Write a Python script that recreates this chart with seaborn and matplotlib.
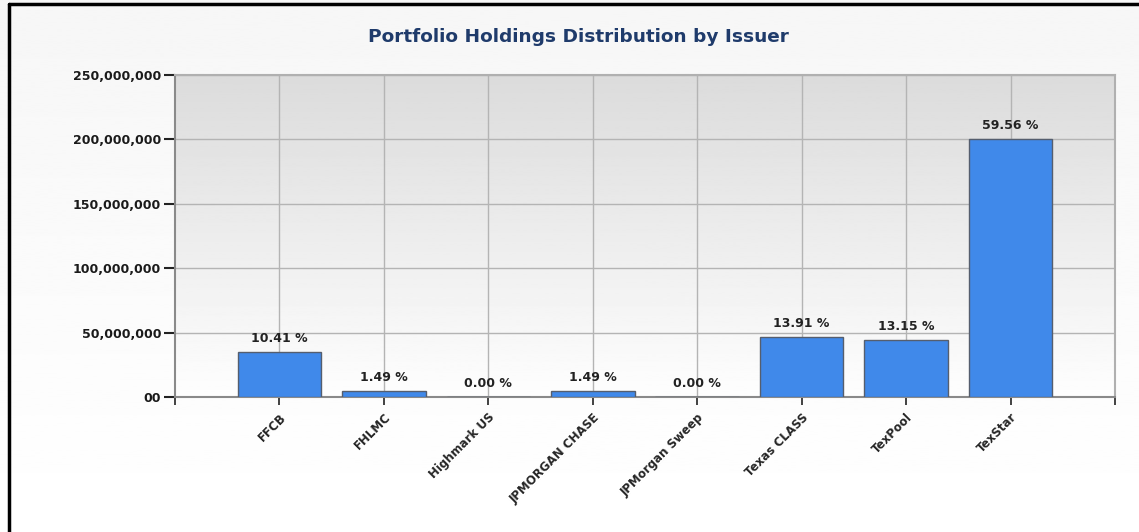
import numpy as np
import pandas as pd
import matplotlib
matplotlib.use("Agg")
import matplotlib.pyplot as plt
import seaborn as sns
from matplotlib.ticker import FuncFormatter

issuers = ["FFCB", "FHLMC", "Highmark US", "JPMORGAN CHASE", "JPMorgan Sweep",
           "Texas CLASS", "TexPool", "TexStar"]
holdings = [35.0e6, 5.0e6, 0.3e6, 5.0e6, 0.3e6, 46.8e6, 44.2e6, 200.2e6]
pct_labels = ["10.41 %", "1.49 %", "0.00 %", "1.49 %", "0.00 %",
              "13.91 %", "13.15 %", "59.56 %"]
y_ticks = [0, 50e6, 100e6, 150e6, 200e6, 250e6]

df = pd.DataFrame({"issuer": issuers, "holdings": holdings})

sns.set_style("white")
plt.rcParams['font.family'] = ['DejaVu Sans']

fig = plt.figure(figsize=(11.39, 5.32), dpi=100)

# figure background gradient + border
bg = fig.add_axes([0, 0, 1, 1], zorder=-10)
grad = np.linspace(0.965, 1.0, 256).reshape(-1, 1)
bg.imshow(grad, cmap="gray", vmin=0, vmax=1, aspect="auto", extent=[0, 1, 0, 1])
bg.plot([0.008, 0.008], [0, 0.992], color="black", lw=2.5)
bg.plot([0.008, 1], [0.992, 0.992], color="black", lw=2.5)
bg.set_xlim(0, 1)
bg.set_ylim(0, 1)
bg.axis("off")

ax = fig.add_axes([175 / 1139, 1 - 397 / 532, 940 / 1139, 322 / 532])

# plot area gradient (grey on top, white at bottom)
pgrad = np.linspace(0.86, 0.995, 256).reshape(-1, 1)
ax.imshow(pgrad, cmap="gray", vmin=0, vmax=1, aspect="auto",
          extent=[0, 1, 0, 1], transform=ax.transAxes, zorder=0)

sns.barplot(data=df, x="issuer", y="holdings", color="#4089ea", width=0.8,
            edgecolor="#555e6e", linewidth=1, saturation=1, ax=ax, zorder=3)

ax.set_xlim(-1, 8)
ax.set_ylim(0, 250e6)
ax.set_yticks(y_ticks)
ax.yaxis.set_major_formatter(FuncFormatter(lambda v, p: "00" if v == 0 else f"{v:,.0f}"))
ax.set_xticks(range(len(issuers)))
ax.set_xticklabels(issuers, rotation=45, ha="right", rotation_mode="anchor",
                   fontsize=8.5, fontweight="bold")
ax.set_xticks([-1, 8], minor=True)
for lab in ax.get_yticklabels():
    lab.set_fontsize(9)
    lab.set_fontweight("bold")
    lab.set_color("#1a1a1a")

ax.grid(True, color="#b4b4b4", lw=1, zorder=1)
ax.set_axisbelow(True)
ax.tick_params(axis="y", which="major", direction="out", length=8, width=1.5,
               color="#222222", pad=2, left=True)
ax.tick_params(axis="x", which="both", direction="out", length=6, width=1.2,
               color="#222222", pad=4, bottom=True)
ax.set_xlabel("")
ax.set_ylabel("")

for side in ["left", "bottom"]:
    ax.spines[side].set_color("#8a8a8a")
    ax.spines[side].set_linewidth(1.5)
for side in ["top", "right"]:
    ax.spines[side].set_color("#b0b0b0")
    ax.spines[side].set_linewidth(1.5)

for i, (v, lab) in enumerate(zip(holdings, pct_labels)):
    ax.annotate(lab, (i, v), xytext=(0, 5), textcoords="offset points",
                ha="center", va="bottom", fontsize=9, fontweight="bold",
                color="#222222", zorder=5)

fig.text(0.5075, 0.93, "Portfolio Holdings Distribution by Issuer",
         ha="center", va="center", fontsize=13.3, fontweight="bold", color="#1f3b6b")

fig.savefig("out.png", dpi=100)
